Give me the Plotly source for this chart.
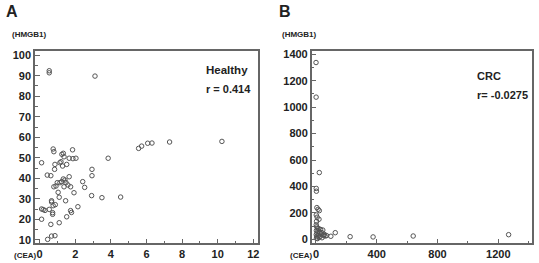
import plotly.graph_objects as go

# Panel A: Healthy
cea_healthy = [0.11, 0.76, 0.80, 1.85, 1.25, 1.33, 1.14, 1.20, 1.37, 1.66, 2.04, 1.87, 0.86, 0.84,
               1.52, 1.29, 0.43, 0.63, 1.66, 1.33, 1.42, 0.99, 1.14, 1.48, 1.74, 0.80, 1.37, 1.04,
               1.93, 1.10, 0.67, 0.67, 1.46, 0.76, 0.88, 0.11, 0.20, 0.30, 0.54, 0.73, 0.73, 1.74,
               1.79, 1.52, 0.11, 0.63, 1.10, 0.67, 0.86, 0.45, 2.42, 2.53, 2.94, 2.94, 2.92, 3.50,
               3.85, 4.55, 2.15, 5.56, 5.73, 6.07, 6.31, 7.30, 10.24, 0.54, 0.54, 3.11, 1.24, 0.92, 1.59]
hmgb1_healthy = [47.6, 54.3, 53.0, 53.9, 51.7, 52.2, 47.6, 48.1, 50.5, 49.8, 49.8, 49.6, 46.8, 44.4,
                 46.8, 46.0, 41.6, 41.3, 40.8, 39.7, 39.2, 37.9, 37.9, 37.9, 35.9, 35.9, 35.9, 33.2,
                 33.0, 30.8, 29.1, 28.5, 29.1, 26.7, 27.2, 25.1, 24.8, 24.4, 24.9, 23.3, 22.5, 24.3,
                 23.4, 21.3, 20.1, 17.6, 18.4, 11.9, 12.1, 10.3, 38.4, 35.6, 44.4, 41.3, 31.6, 30.6,
                 49.8, 30.9, 26.2, 54.6, 55.7, 57.1, 57.2, 57.7, 58.0, 92.4, 91.4, 89.8, 38.4, 36.3, 36.8]

# Panel B: CRC
cea_crc = [0.5, 1, 22, 2, 3, 6, 14, 22, 2, 8, 20, 4, 40, 98, 127, 225, 376, 640, 1268,
           2, 5, 10, 18, 30, 45, 3, 12, 25, 8, 35, 55, 2, 15, 60, 5, 20, 40, 3, 10, 70, 28, 50]
hmgb1_crc = [1338, 1076, 505, 385, 364, 240, 227, 217, 184, 167, 152, 136, 50, 23, 50, 20, 18, 25, 35,
             110, 95, 85, 80, 75, 70, 65, 60, 55, 45, 40, 38, 35, 30, 25, 20, 15, 12, 8, 5, 28, 22, 30]

marker = dict(symbol="circle-open", size=4.5, color="#555555", line=dict(width=1, color="#555555"))
TXT = "#222222"
AX = "#666666"
FONT = "Liberation Sans"

fig = go.Figure()
fig.add_trace(go.Scatter(x=cea_healthy, y=hmgb1_healthy, mode="markers", marker=marker,
                         xaxis="x", yaxis="y", showlegend=False))
fig.add_trace(go.Scatter(x=cea_crc, y=hmgb1_crc, mode="markers", marker=marker,
                         xaxis="x2", yaxis="y2", showlegend=False))

tickfont = dict(family=FONT, size=11, color=TXT, weight="bold")

def ax(domain, rng, dtick, mdtick, anchor, standoff=0):
    return dict(domain=domain, range=rng, dtick=dtick, tick0=0, anchor=anchor,
                automargin=False, ticklabelstandoff=standoff,
                showline=True, mirror=True, linecolor=AX, linewidth=1.5,
                ticks="inside", ticklen=5, tickcolor=AX, tickwidth=1,
                minor=dict(ticks="inside", ticklen=3, dtick=mdtick, tickcolor=AX, tickwidth=1),
                showgrid=False, zeroline=False, tickfont=tickfont)

yd = [0.075, 0.806]
fig.update_layout(
    width=539, height=263, margin=dict(l=0, r=0, t=0, b=0),
    paper_bgcolor="white", plot_bgcolor="white",
    xaxis=ax([35/539, 257.7/539], [-0.26, 12.25], 2, 1, "y"),
    yaxis=ax(yd, [8.4, 102], 10, 5, "x"),
    xaxis2=ax([311.7/539, 531.7/539], [-28, 1420], 400, 200, "y2"),
    yaxis2=ax(yd, [-30, 1425], 200, 100, "x2"),
)

def ann(text, x, y, size, xanchor="center"):
    fig.add_annotation(text=text, x=x/539, y=1 - y/263, xref="paper", yref="paper",
                       xanchor=xanchor, yanchor="middle", showarrow=False,
                       font=dict(family=FONT, size=size, color=TXT, weight="bold"))

ann("A", 4, 11, 16, "left")
ann("B", 277, 11, 16, "left")
ann("(HMGB1)", 10, 34, 8, "left")
ann("(HMGB1)", 280, 34, 8, "left")
ann("(CEA)", 12, 255, 8, "left")
ann("(CEA)", 288, 255.5, 8, "left")
ann("Healthy", 204, 70, 11.5, "left")
ann("r = 0.414", 204, 89, 11, "left")
ann("CRC", 475, 76, 11, "left")
ann("r= -0.0275", 475, 95, 11, "left")

fig.write_html("out.html", config={"displayModeBar": False},
               post_script="document.body.style.margin='0';document.body.style.overflow='hidden';")
